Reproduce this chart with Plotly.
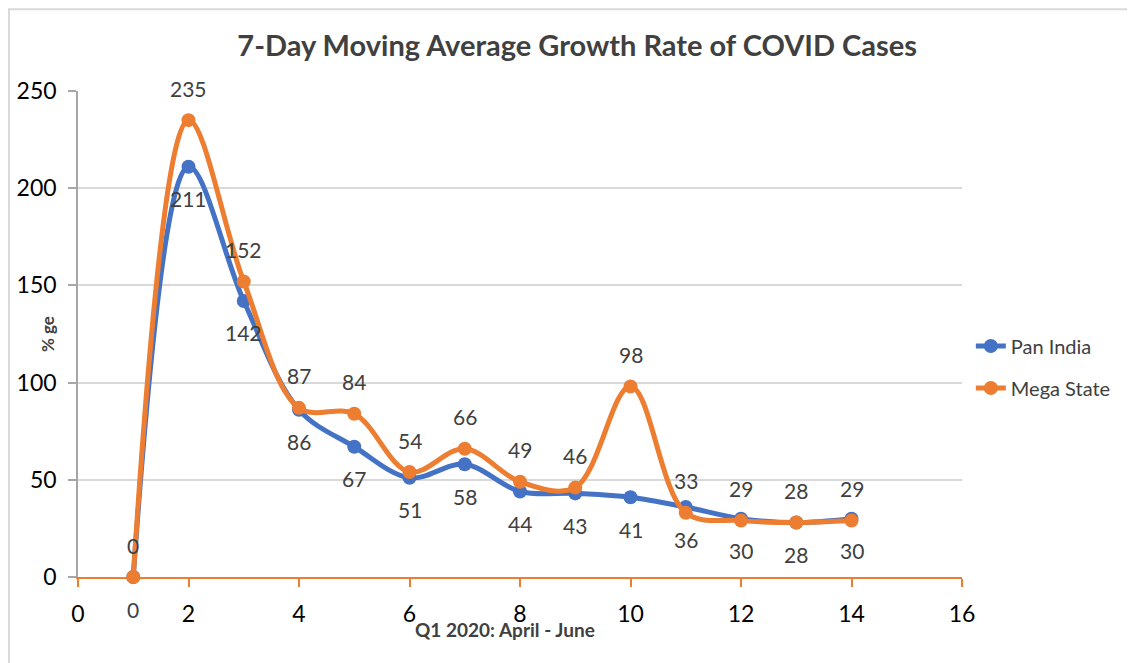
import plotly.graph_objects as go

# ── Datos ──────────────────────────────────────────────────────────────────
weeks = [1, 2, 3, 4, 5, 6, 7, 8, 9, 10, 11, 12, 13, 14]
pan_india = [0, 211, 142, 86, 67, 51, 58, 44, 43, 41, 36, 30, 28, 30]
mega_state = [0, 235, 152, 87, 84, 54, 66, 49, 46, 98, 33, 29, 28, 29]
x_ticks = [0, 2, 4, 6, 8, 10, 12, 14, 16]
y_ticks = [0, 50, 100, 150, 200, 250]

BLUE = "#4472C4"
ORANGE = "#ED7D31"
GRID = "#D9D9D9"
TEXT = "#404040"
FONT = "Lato, Open Sans, sans-serif"

fig = go.Figure()

series = [("Pan India", pan_india, BLUE), ("Mega State", mega_state, ORANGE)]
for name, vals, color in series:
    fig.add_trace(go.Scatter(
        x=weeks,
        y=vals,
        name=name,
        legendgroup=name,
        mode="lines+markers",
        line=dict(color=color, width=5, shape="spline", smoothing=1.0),
        marker=dict(color=color, size=14),
        cliponaxis=False,
    ))

# etiquetas de datos: Pan India debajo, Mega State encima
annotations = []
for x, v in zip(weeks, pan_india):
    annotations.append(dict(x=x, y=v, text=str(v), showarrow=False, yshift=-32,
                            font=dict(size=21, color=TEXT, family=FONT)))
for x, v in zip(weeks, mega_state):
    annotations.append(dict(x=x, y=v, text=str(v), showarrow=False, yshift=32,
                            font=dict(size=21, color=TEXT, family=FONT)))

annotations.append(dict(
    text="<b>Q1 2020: April - June</b>", xref="paper", yref="paper",
    x=0.483, y=-0.107, xanchor="center", yanchor="middle", showarrow=False,
    font=dict(size=19, color=TEXT, family=FONT),
))
annotations.append(dict(
    text="<b>% ge</b>", xref="paper", yref="paper", textangle=-90,
    x=-0.035, y=0.5, xanchor="center", yanchor="middle", showarrow=False,
    font=dict(size=17, color=TEXT, family=FONT),
))

fig.update_layout(
    width=1127,
    height=655,
    paper_bgcolor="white",
    plot_bgcolor="white",
    margin=dict(l=70, r=173, t=83, b=86),
    font=dict(family=FONT, color="black"),
    title=dict(
        text="<b>7-Day Moving Average Growth Rate of COVID Cases</b>",
        font=dict(size=29, color=TEXT, family=FONT),
        x=0.505, xanchor="center", y=0.942, yanchor="middle",
    ),
    xaxis=dict(
        range=[0, 16], tickvals=x_ticks, showgrid=False, zeroline=False,
        showline=True, linecolor=ORANGE, linewidth=1.5,
        ticks="outside", tickcolor=ORANGE, ticklen=8, tickwidth=1.5,
        ticklabelstandoff=8, automargin=False,
        tickfont=dict(size=23, color="black"),
    ),
    yaxis=dict(
        range=[0, 250], tickvals=y_ticks, showgrid=True, gridcolor=GRID, gridwidth=2,
        zeroline=False, showline=True, linecolor="#A6A6A6", linewidth=1.5,
        ticks="outside", tickcolor="#A6A6A6", ticklen=8, tickwidth=1.5,
        ticklabelstandoff=7, automargin=False,
        tickfont=dict(size=23, color="black"),
    ),
    legend=dict(
        x=1.01, xanchor="left", y=0.432, yanchor="middle",
        font=dict(size=20, color=TEXT, family=FONT),
        bgcolor="rgba(0,0,0,0)",
        traceorder="grouped", tracegroupgap=13,
    ),
    annotations=annotations,
    shapes=[dict(
        type="rect", xref="paper", yref="paper",
        x0=-0.0781, x1=1.25, y0=-0.25, y1=1.168,
        line=dict(color=GRID, width=2), layer="below",
    )],
)

fig.write_html("out.html")
